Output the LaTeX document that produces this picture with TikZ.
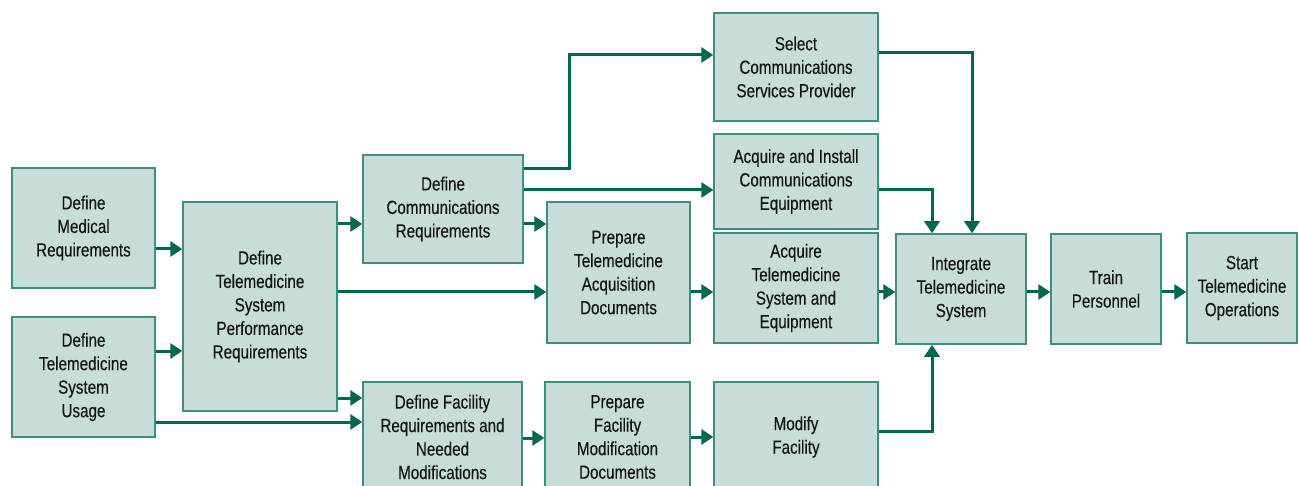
\documentclass[tikz,border=0pt]{standalone}
\usepackage{fontspec}
\setmainfont{Liberation Sans}[FakeStretch=0.8, FakeBold=0.3]
\usetikzlibrary{arrows.meta}
\definecolor{boxfill}{HTML}{C8DDD9}
\definecolor{boxline}{HTML}{3F8F7E}
\definecolor{arrcol}{HTML}{00684F}
\tikzset{
  stagebox/.style={draw=boxline, line width=1.5pt, fill=boxfill, rectangle,
    inner sep=0pt, align=center, text=black!92,
    font=\fontsize{19}{23.5}\selectfont},
  arr/.style={draw=arrcol, line width=3pt, -{Triangle[length=12pt,width=15pt]}}
}
\begin{document}
\begin{tikzpicture}[x=1pt,y=-1pt]
\useasboundingbox (0,0) rectangle (1298,486);
\clip (0,0) rectangle (1298,486);
\node[stagebox, minimum width=143, minimum height=120] (A) at (83.5,228) {Define\\Medical\\Requirements};
\node[stagebox, minimum width=143, minimum height=120] (B) at (83.5,377) {Define\\Telemedicine\\System\\Usage};
\node[stagebox, minimum width=154, minimum height=209] (C) at (260,306.5) {Define\\Telemedicine\\System\\Performance\\Requirements};
\node[stagebox, minimum width=160, minimum height=108] (D) at (443,209) {Define\\Communications\\Requirements};
\node[stagebox, minimum width=164, minimum height=108] (E) at (796,67) {Select\\Communications\\Services Provider};
\node[stagebox, minimum width=164, minimum height=95] (F) at (796,181.5) {Acquire and Install\\Communications\\Equipment};
\node[stagebox, minimum width=143, minimum height=141] (G) at (618.5,272.5) {Prepare\\Telemedicine\\Acquisition\\Documents};
\node[stagebox, minimum width=164, minimum height=110] (H) at (796,288) {Acquire\\Telemedicine\\System and\\Equipment};
\node[stagebox, minimum width=130, minimum height=110] (I) at (961,289) {Integrate\\Telemedicine\\System};
\node[stagebox, minimum width=110, minimum height=110] (J) at (1106,289) {Train\\Personnel};
\node[stagebox, minimum width=110, minimum height=110] (K) at (1242,288) {Start\\Telemedicine\\Operations};
\node[stagebox, minimum width=159, minimum height=110] (L) at (442.5,437) {Define Facility\\Requirements and\\Needed\\Modifications};
\node[stagebox, minimum width=145, minimum height=110] (M) at (617.5,437) {Prepare\\Facility\\Modification\\Documents};
\node[stagebox, minimum width=164, minimum height=110] (N) at (796,437) {Modify\\Facility};

\draw[arr] (A.east |- 0,249) -- (C.west |- 0,249);
\draw[arr] (B.east |- 0,351) -- (C.west |- 0,351);
\draw[arr] (C.east |- 0,224) -- (D.west |- 0,224);
\draw[arr] (C.east |- 0,292) -- (G.west |- 0,292);
\draw[arr] (C.east |- 0,398) -- (L.west |- 0,398);
\draw[arr] (B.east |- 0,422) -- (L.west |- 0,422);
\draw[arr] (D.east |- 0,169) -- (569,169) -- (569,55) -- (E.west |- 0,55);
\draw[arr] (D.east |- 0,190) -- (F.west |- 0,190);
\draw[arr] (D.east |- 0,224) -- (G.west |- 0,224);
\draw[arr] (G.east |- 0,292) -- (H.west |- 0,292);
\draw[arr] (H.east |- 0,292) -- (I.west |- 0,292);
\draw[arr] (I.east |- 0,292) -- (J.west |- 0,292);
\draw[arr] (J.east |- 0,292) -- (K.west |- 0,292);
\draw[arr] (E.east |- 0,53) -| (I.north -| 972,0);
\draw[arr] (F.east |- 0,190) -| (I.north -| 932,0);
\draw[arr] (N.east |- 0,431) -| (I.south -| 932,0);
\draw[arr] (L.east |- 0,438) -- (M.west |- 0,438);
\draw[arr] (M.east |- 0,437) -- (N.west |- 0,437);
\end{tikzpicture}
\end{document}
